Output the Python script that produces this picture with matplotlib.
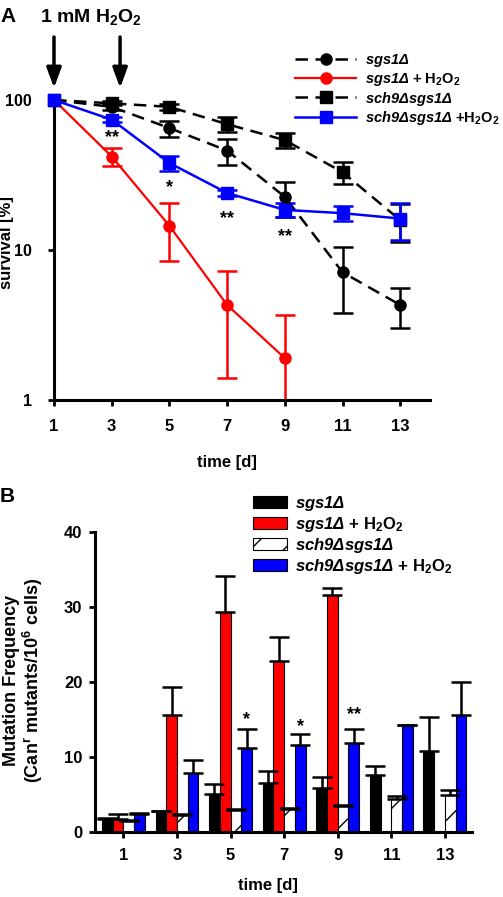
import matplotlib
matplotlib.use("Agg")
import matplotlib.pyplot as plt
import numpy as np
from matplotlib.ticker import NullLocator

# panel A: survival [%]
days = [1, 3, 5, 7, 9, 11, 13]
surv_sgs1 = [100, 90, 65, 46, 22.6, 7.1, 4.3]
surv_sgs1_err = [0, 4, 8, 9, 6, 3.3, 1.3]
surv_sgs1_h2o2 = [100, 42, 14.5, 4.3, 1.9]
surv_sgs1_h2o2_err = [0, 5.5, 6, 2.9, 1.8]
surv_sch9 = [100, 95, 90, 69, 54, 33, 15.8]
surv_sch9_err = [0, 3, 4, 8, 6, 5.5, 4.5]
surv_sch9_h2o2 = [100, 74, 38, 24, 18.5, 17.6, 16.2]
surv_sch9_h2o2_err = [0, 3, 4.5, 1, 2, 2, 4.5]
stars_a = ['**', '*', '**', '**']
stars_a_x = [3, 5, 7, 9]
stars_a_y = [56, 26, 16.3, 12.2]

# panel B: mutation frequency
day_labels = ['1', '3', '5', '7', '9', '11', '13']
mut_sgs1 = [1.7, 2.7, 5.0, 6.5, 5.8, 7.6, 10.7]
mut_sgs1_err = [0.1, 0.1, 1.3, 1.6, 1.5, 1.2, 4.6]
mut_sgs1_h2o2 = [1.7, 15.6, 29.3, 22.7, 31.6]
mut_sgs1_h2o2_err = [0.7, 3.7, 4.8, 3.3, 0.9]
mut_sch9 = [1.4, 2.2, 2.9, 3.0, 3.4, 4.3, 4.9]
mut_sch9_err = [0.1, 0.1, 0.1, 0.1, 0.2, 0.5, 0.7]
mut_sch9_h2o2 = [2.4, 7.8, 11.1, 11.5, 11.8, 14.2, 15.5]
mut_sch9_h2o2_err = [0.1, 1.8, 2.6, 1.5, 1.9, 0, 4.5]
stars_b = ['*', '*', '**']
stars_b_pos = [2, 3, 4]
stars_b_y = [15.0, 14.0, 15.6]

# \mathsf is mapped to the bold italic face below (keeps digits and Δ italic)
labels = [r'$\mathsf{sgs1Δ}$', r'$\mathsf{sgs1Δ}$ + H$_2$O$_2$',
          r'$\mathsf{sch9Δsgs1Δ}$', r'$\mathsf{sch9Δsgs1Δ}$ +H$_2$O$_2$']
labels_b = [r'$\mathsf{sgs1Δ}$', r'$\mathsf{sgs1Δ}$ + H$_2$O$_2$',
            r'$\mathsf{sch9Δsgs1Δ}$', r'$\mathsf{sch9Δsgs1Δ}$ + H$_2$O$_2$']

plt.rcParams.update({
    'font.family': ['Liberation Sans', 'DejaVu Sans'],
    'font.weight': 'bold',
    'font.size': 12,
    'mathtext.fontset': 'custom',
    'mathtext.rm': 'Liberation Sans:bold',
    'mathtext.it': 'Liberation Sans:italic:bold',
    'mathtext.bf': 'Liberation Sans:bold',
    'mathtext.sf': 'Liberation Sans:italic:bold',
    'mathtext.default': 'regular',
    'hatch.linewidth': 1.0,
})

W, H = 503, 897
fig = plt.figure(figsize=(W / 100, H / 100), dpi=100)

# ---------------- panel A ----------------
axA = fig.add_axes([54 / W, 1 - 400 / H, 376 / W, 300 / H])
axA.set_yscale('log')
red = '#ff0000'
blue = '#0000ff'
dash = (0, (5, 3))

def err_lo(vals, errs):
    # keep lower bound positive on log axis
    return [min(e, v - 0.01) for v, e in zip(vals, errs)]

series = [
    (days, surv_sgs1, surv_sgs1_err, 'black', 'o', dash, 1.8),
    (days[:5], surv_sgs1_h2o2, surv_sgs1_h2o2_err, red, 'o', '-', 1.6),
    (days, surv_sch9, surv_sch9_err, 'black', 's', dash, 1.8),
    (days, surv_sch9_h2o2, surv_sch9_h2o2_err, blue, 's', '-', 1.8),
]
for (x, y, e, c, m, ls, lw), lab in zip(series, labels):
    axA.errorbar(x, y, yerr=[err_lo(y, e), e], fmt='none', ecolor=c, elinewidth=1.8,
                 capsize=7, capthick=1.8, zorder=2)
    axA.plot(x, y, color=c, marker=m, ls=ls, lw=lw, ms=8, label=lab, clip_on=False, zorder=3)

for s, x, y in zip(stars_a, stars_a_x, stars_a_y):
    axA.text(x, y, s, ha='center', va='center', fontsize=13)

axA.set_xlim(1, 14.03)
axA.set_ylim(1, 100)
axA.set_xticks(days)
axA.set_yticks([1, 10, 100])
axA.set_yticklabels(['1', '10', '100'])
axA.yaxis.set_minor_locator(NullLocator())
for sp in ['top', 'right']:
    axA.spines[sp].set_visible(False)
for sp in ['left', 'bottom']:
    axA.spines[sp].set_linewidth(2.2)
axA.tick_params(axis='both', width=2, length=4, direction='out')
axA.tick_params(axis='x', pad=10)
axA.tick_params(axis='y', pad=12, labelsize=11.5)
fig.text(7 / W, 1 - 243 / H, 'survival [%]', rotation=90, ha='center', va='center')
fig.text(227 / W, 1 - 462 / H, 'time [d]', ha='center', va='center')

for xa in [1, 3.29]:
    axA.annotate('', xy=(xa, 1.04), xytext=(xa, 1.21), xycoords=('data', 'axes fraction'),
                 arrowprops=dict(arrowstyle='-|>,head_length=0.6,head_width=0.22',
                                 lw=2.5, color='black', mutation_scale=20, shrinkA=0, shrinkB=0),
                 annotation_clip=False)
fig.text(40 / W, 1 - 17 / H, '1 mM H$_2$O$_2$', ha='left', va='center', fontsize=14)
fig.text(0, 1 - 16 / H, 'A', ha='left', va='center', fontsize=15)

axA.legend(loc='upper left', bbox_to_anchor=(295 / W, 1 - 52 / H), bbox_transform=fig.transFigure,
           frameon=False, borderpad=0, borderaxespad=0, handlelength=4.2, handletextpad=0.6,
           labelspacing=0.12, fontsize=10.5)

# ---------------- panel B ----------------
axB = fig.add_axes([95 / W, 1 - 831.7 / H, 376.7 / W, 300 / H])
pos = np.arange(len(days))
bw = 0.2
z5 = [0] * 5
z7 = [0] * 7
ekw = dict(elinewidth=1.8, capsize=7, capthick=1.8)
axB.bar(pos - 1.5 * bw, mut_sgs1, bw, color='black', edgecolor='black', lw=0.8,
        yerr=[z7, mut_sgs1_err], error_kw=ekw, label=labels_b[0])
axB.bar(pos[:5] - 0.5 * bw, mut_sgs1_h2o2, bw, color=red, edgecolor='black', lw=0.8,
        yerr=[z5, mut_sgs1_h2o2_err], error_kw=ekw, label=labels_b[1])
axB.bar(pos + 0.5 * bw, mut_sch9, bw, color='white', edgecolor='black', lw=0.8, hatch='/',
        yerr=[z7, mut_sch9_err], error_kw=ekw, label=labels_b[2])
axB.bar(pos + 1.5 * bw, mut_sch9_h2o2, bw, color=blue, edgecolor='black', lw=0.8,
        yerr=[z7, mut_sch9_h2o2_err], error_kw=ekw, label=labels_b[3])

for s, p, y in zip(stars_b, stars_b_pos, stars_b_y):
    axB.text(p + 1.5 * bw, y, s, ha='center', va='center', fontsize=13)

axB.set_xlim(-0.53, 6.5)
axB.set_ylim(0, 40)
axB.set_xticks(pos)
axB.set_xticklabels(day_labels)
axB.set_yticks([0, 10, 20, 30, 40])
for sp in ['top', 'right']:
    axB.spines[sp].set_visible(False)
for sp in ['left', 'bottom']:
    axB.spines[sp].set_linewidth(2.2)
axB.tick_params(axis='both', width=2, length=4, direction='out')
axB.tick_params(axis='x', pad=8)
axB.tick_params(axis='y', pad=5)
fig.text(24 / W, 1 - 680 / H, 'Mutation Frequency\n(Can$^r$ mutants/10$^6$ cells)',
         rotation=90, ha='center', va='center', multialignment='center', linespacing=1.1,
         fontsize=13)
fig.text(268 / W, 1 - 885 / H, 'time [d]', ha='center', va='center')
fig.text(0, 1 - 496 / H, 'B', ha='left', va='center', fontsize=15)

axB.legend(loc='upper left', bbox_to_anchor=(253 / W, 1 - 494 / H), bbox_transform=fig.transFigure,
           frameon=False, borderpad=0, borderaxespad=0, handlelength=2.04, handletextpad=0.5,
           labelspacing=0.12, fontsize=12)

fig.savefig('out.png', dpi=100)
